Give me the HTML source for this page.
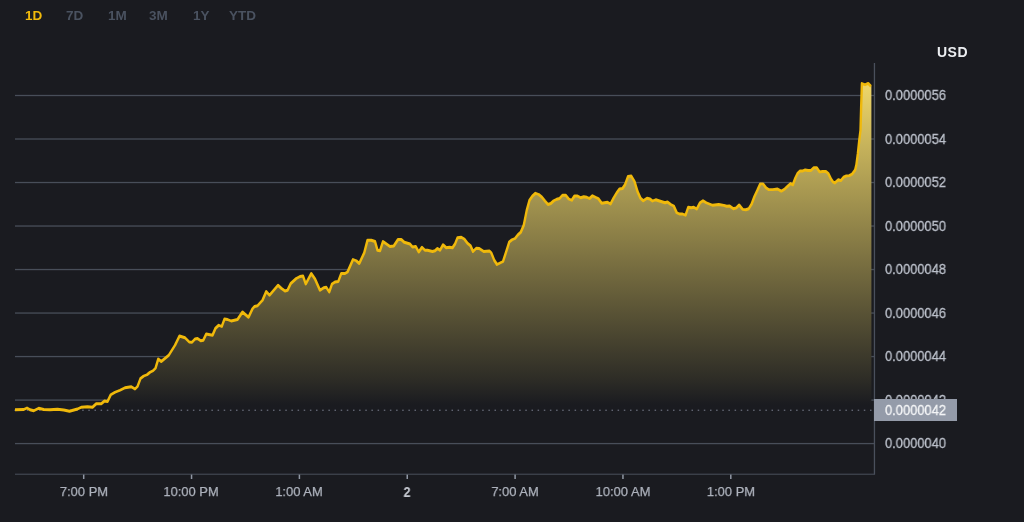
<!DOCTYPE html>
<html><head><meta charset="utf-8"><title>Chart</title>
<style>
html,body{margin:0;padding:0;background:#1a1b20;}
body{width:1024px;height:522px;position:relative;overflow:hidden;font-family:"Liberation Sans",sans-serif;}
svg{position:absolute;left:0;top:0;}
.tab{will-change:transform;position:absolute;top:8px;height:16px;line-height:16px;font-size:13.5px;font-weight:bold;color:#4a5260;white-space:nowrap;}
.tab.on{color:#f0b90b;}
.usd{will-change:transform;position:absolute;left:937px;top:44px;height:16px;line-height:16px;font-size:14px;font-weight:bold;color:#eceef1;letter-spacing:0.5px;}
.pl{position:absolute;left:884.6px;height:16px;line-height:16px;font-size:14.5px;color:#bcc1cb;white-space:nowrap;transform:scaleX(0.89);transform-origin:0 50%;-webkit-text-stroke:0.3px #bcc1cb;will-change:transform;}
.tl{position:absolute;top:483.5px;width:80px;text-align:center;height:16px;line-height:16px;font-size:13px;color:#aeb3bd;white-space:nowrap;transform:scaleX(0.995);transform-origin:50% 50%;-webkit-text-stroke:0.25px #aeb3bd;will-change:transform;}
.tl.b{font-weight:bold;color:#c4c8d0;font-size:14.5px;transform:scaleX(0.88);-webkit-text-stroke:0;}
.cur{position:absolute;left:874px;top:399px;width:83px;height:22px;background:#949ba9;}
.cur span{position:absolute;left:10.6px;top:3px;height:16px;line-height:16px;font-size:14.5px;color:#f4f5f7;transform:scaleX(0.89);transform-origin:0 50%;-webkit-text-stroke:0.3px #f4f5f7;will-change:transform;}
</style></head><body>
<svg width="1024" height="522" viewBox="0 0 1024 522">
<defs>
<linearGradient id="g" gradientUnits="userSpaceOnUse" x1="0" y1="63" x2="0" y2="410">
<stop offset="0" stop-color="rgb(252,226,110)"/>
<stop offset="0.9135" stop-color="rgb(45,44,38)"/>
<stop offset="0.985" stop-color="rgb(26,27,32)"/>
<stop offset="1" stop-color="rgb(26,27,32)"/>
</linearGradient>
</defs>
<rect x="15" y="94.85" width="859" height="1.3" fill="#484e59"/>
<rect x="15" y="138.36" width="859" height="1.3" fill="#484e59"/>
<rect x="15" y="181.87" width="859" height="1.3" fill="#484e59"/>
<rect x="15" y="225.38" width="859" height="1.3" fill="#484e59"/>
<rect x="15" y="268.89" width="859" height="1.3" fill="#484e59"/>
<rect x="15" y="312.40" width="227" height="1.3" fill="#484e59"/><rect x="871" y="312.40" width="3" height="1.3" fill="#484e59"/>
<rect x="15" y="355.91" width="859" height="1.3" fill="#484e59"/>
<rect x="15" y="399.42" width="859" height="1.3" fill="#484e59"/>
<rect x="15" y="442.93" width="859" height="1.3" fill="#484e59"/>
<path d="M15.00,409.50 L23.75,409.25 L27.00,407.75 L30.00,409.50 L33.75,410.50 L38.75,408.00 L43.75,409.25 L50.00,409.50 L57.50,409.00 L63.75,409.75 L69.50,411.00 L77.50,408.75 L81.25,407.00 L87.50,406.50 L92.50,407.00 L96.25,403.50 L101.25,403.50 L104.50,400.75 L107.50,401.25 L110.75,394.50 L115.00,392.00 L120.00,390.00 L125.00,387.50 L131.25,386.50 L135.00,388.75 L137.50,386.25 L140.50,378.25 L143.75,375.75 L147.00,374.50 L150.00,372.00 L153.00,370.50 L155.50,368.00 L158.25,358.75 L161.25,361.25 L168.75,355.00 L175.00,345.00 L179.50,335.75 L185.00,337.50 L189.25,341.75 L192.00,342.00 L195.00,338.75 L197.50,338.25 L200.75,340.50 L203.25,340.00 L206.25,333.75 L212.50,335.00 L215.50,328.00 L218.75,325.00 L221.75,326.25 L224.50,318.75 L227.50,319.25 L231.25,320.75 L237.50,319.25 L242.50,311.75 L248.50,317.00 L252.50,308.50 L254.50,306.25 L257.50,305.50 L262.50,300.00 L266.25,291.25 L269.50,295.00 L278.00,285.00 L281.25,288.00 L285.00,290.75 L287.50,290.00 L290.75,283.25 L296.25,278.25 L300.00,276.25 L303.00,275.75 L305.75,283.75 L311.25,273.25 L315.00,278.75 L320.00,290.00 L323.75,287.50 L326.25,287.00 L329.25,291.75 L332.00,283.75 L335.00,281.75 L338.25,281.25 L341.25,273.25 L345.00,273.25 L347.50,271.75 L353.00,259.25 L356.25,260.50 L359.25,263.25 L364.25,252.50 L367.50,240.00 L371.25,240.00 L375.00,241.25 L377.50,250.00 L380.00,250.50 L383.00,241.25 L390.00,246.25 L393.75,245.75 L398.00,239.25 L401.25,239.25 L404.25,242.00 L410.00,243.75 L412.50,246.75 L415.75,246.25 L418.75,251.75 L422.00,247.00 L425.00,250.00 L427.50,250.00 L432.50,251.25 L435.00,250.50 L437.50,248.25 L440.00,250.00 L443.00,244.50 L446.25,247.50 L449.50,247.00 L452.50,247.50 L455.00,243.75 L457.50,237.50 L461.25,237.00 L464.25,238.75 L467.50,243.00 L470.50,245.50 L473.00,251.25 L476.25,248.00 L479.25,248.25 L483.75,251.25 L489.50,250.75 L491.25,252.50 L494.25,260.00 L497.00,264.25 L503.00,261.25 L506.25,251.25 L509.25,241.75 L512.00,239.50 L515.00,238.25 L518.00,234.50 L520.75,232.00 L523.75,225.00 L526.75,210.00 L529.50,200.00 L532.50,195.75 L535.50,193.00 L538.75,194.25 L541.75,196.75 L545.00,200.75 L548.00,204.25 L550.75,203.25 L553.75,200.50 L556.75,199.00 L559.50,198.25 L562.50,195.00 L565.75,195.00 L568.75,198.75 L571.75,200.00 L574.50,195.75 L577.50,195.75 L580.75,197.50 L583.75,196.50 L586.75,197.00 L589.50,198.25 L592.50,195.50 L595.50,197.00 L598.25,198.25 L601.75,203.00 L604.50,202.50 L607.50,202.00 L610.50,203.75 L613.75,197.50 L616.75,192.50 L619.50,188.75 L622.50,188.25 L625.00,184.50 L628.00,176.25 L631.25,175.75 L634.50,181.25 L637.50,191.25 L640.50,198.00 L643.25,200.50 L647.00,198.00 L650.00,198.75 L652.50,200.75 L655.75,199.50 L658.75,200.50 L665.00,202.50 L667.50,201.75 L670.75,204.25 L673.75,205.75 L676.75,212.50 L679.50,213.75 L682.50,213.75 L685.50,215.00 L688.25,207.00 L691.25,207.50 L693.75,207.00 L696.75,208.75 L700.00,202.50 L703.00,200.50 L706.25,202.50 L712.50,205.00 L718.75,204.25 L723.80,205.10 L726.70,206.00 L729.60,205.70 L733.40,208.50 L736.30,207.60 L739.20,204.70 L742.60,209.10 L745.90,209.50 L748.70,208.50 L751.60,203.80 L754.50,196.10 L757.40,190.00 L760.20,183.60 L763.10,183.60 L766.00,187.50 L768.90,189.40 L772.70,189.40 L777.50,188.80 L781.30,190.90 L785.10,188.40 L788.00,185.60 L790.50,183.30 L792.80,184.60 L795.30,177.90 L797.60,173.10 L799.90,170.80 L802.40,170.80 L805.20,169.70 L808.10,170.20 L811.00,170.20 L813.90,167.40 L816.70,167.40 L819.60,171.60 L822.50,171.20 L825.90,171.20 L828.20,173.10 L831.10,178.90 L833.00,181.70 L834.90,182.70 L838.40,179.40 L840.70,180.40 L843.60,176.90 L846.40,175.60 L849.30,175.40 L852.20,173.70 L855.10,169.80 L856.40,164.50 L857.90,153.00 L859.30,139.60 L860.50,130.00 L861.20,105.00 L861.90,83.30 L865.00,84.50 L868.20,83.10 L871.00,86.10 L871.4,86 L871.4,410.3 L15.00,410.3 Z" fill="url(#g)"/>
<rect x="14.4" y="409.7" width="1.5" height="1.05" fill="#787e8c"/>
<rect x="20.6" y="409.7" width="1.5" height="1.05" fill="#787e8c"/>
<rect x="26.8" y="409.7" width="1.5" height="1.05" fill="#787e8c"/>
<rect x="32.9" y="409.7" width="1.5" height="1.05" fill="#787e8c"/>
<rect x="39.1" y="409.7" width="1.5" height="1.05" fill="#787e8c"/>
<rect x="45.2" y="409.7" width="1.5" height="1.05" fill="#787e8c"/>
<rect x="51.4" y="409.7" width="1.5" height="1.05" fill="#787e8c"/>
<rect x="57.5" y="409.7" width="1.5" height="1.05" fill="#787e8c"/>
<rect x="63.7" y="409.7" width="1.5" height="1.05" fill="#787e8c"/>
<rect x="69.8" y="409.7" width="1.5" height="1.05" fill="#787e8c"/>
<rect x="76.0" y="409.7" width="1.5" height="1.05" fill="#787e8c"/>
<rect x="82.2" y="409.7" width="1.5" height="1.05" fill="#787e8c"/>
<rect x="88.3" y="409.7" width="1.5" height="1.05" fill="#787e8c"/>
<rect x="94.5" y="409.7" width="1.5" height="1.05" fill="#787e8c"/>
<rect x="100.6" y="409.7" width="1.5" height="1.05" fill="#787e8c"/>
<rect x="106.8" y="409.7" width="1.5" height="1.05" fill="#787e8c"/>
<rect x="112.9" y="409.7" width="1.5" height="1.05" fill="#787e8c"/>
<rect x="119.1" y="409.7" width="1.5" height="1.05" fill="#787e8c"/>
<rect x="125.2" y="409.7" width="1.5" height="1.05" fill="#787e8c"/>
<rect x="131.4" y="409.7" width="1.5" height="1.05" fill="#787e8c"/>
<rect x="137.6" y="409.7" width="1.5" height="1.05" fill="#787e8c"/>
<rect x="143.7" y="409.7" width="1.5" height="1.05" fill="#787e8c"/>
<rect x="149.9" y="409.7" width="1.5" height="1.05" fill="#787e8c"/>
<rect x="156.0" y="409.7" width="1.5" height="1.05" fill="#787e8c"/>
<rect x="162.2" y="409.7" width="1.5" height="1.05" fill="#787e8c"/>
<rect x="168.3" y="409.7" width="1.5" height="1.05" fill="#787e8c"/>
<rect x="174.5" y="409.7" width="1.5" height="1.05" fill="#787e8c"/>
<rect x="180.6" y="409.7" width="1.5" height="1.05" fill="#787e8c"/>
<rect x="186.8" y="409.7" width="1.5" height="1.05" fill="#787e8c"/>
<rect x="192.9" y="409.7" width="1.5" height="1.05" fill="#787e8c"/>
<rect x="199.1" y="409.7" width="1.5" height="1.05" fill="#787e8c"/>
<rect x="205.3" y="409.7" width="1.5" height="1.05" fill="#787e8c"/>
<rect x="211.4" y="409.7" width="1.5" height="1.05" fill="#787e8c"/>
<rect x="217.6" y="409.7" width="1.5" height="1.05" fill="#787e8c"/>
<rect x="223.7" y="409.7" width="1.5" height="1.05" fill="#787e8c"/>
<rect x="229.9" y="409.7" width="1.5" height="1.05" fill="#787e8c"/>
<rect x="236.0" y="409.7" width="1.5" height="1.05" fill="#787e8c"/>
<rect x="242.2" y="409.7" width="1.5" height="1.05" fill="#787e8c"/>
<rect x="248.3" y="409.7" width="1.5" height="1.05" fill="#787e8c"/>
<rect x="254.5" y="409.7" width="1.5" height="1.05" fill="#787e8c"/>
<rect x="260.7" y="409.7" width="1.5" height="1.05" fill="#787e8c"/>
<rect x="266.8" y="409.7" width="1.5" height="1.05" fill="#787e8c"/>
<rect x="273.0" y="409.7" width="1.5" height="1.05" fill="#787e8c"/>
<rect x="279.1" y="409.7" width="1.5" height="1.05" fill="#787e8c"/>
<rect x="285.3" y="409.7" width="1.5" height="1.05" fill="#787e8c"/>
<rect x="291.4" y="409.7" width="1.5" height="1.05" fill="#787e8c"/>
<rect x="297.6" y="409.7" width="1.5" height="1.05" fill="#787e8c"/>
<rect x="303.7" y="409.7" width="1.5" height="1.05" fill="#787e8c"/>
<rect x="309.9" y="409.7" width="1.5" height="1.05" fill="#787e8c"/>
<rect x="316.0" y="409.7" width="1.5" height="1.05" fill="#787e8c"/>
<rect x="322.2" y="409.7" width="1.5" height="1.05" fill="#787e8c"/>
<rect x="328.4" y="409.7" width="1.5" height="1.05" fill="#787e8c"/>
<rect x="334.5" y="409.7" width="1.5" height="1.05" fill="#787e8c"/>
<rect x="340.7" y="409.7" width="1.5" height="1.05" fill="#787e8c"/>
<rect x="346.8" y="409.7" width="1.5" height="1.05" fill="#787e8c"/>
<rect x="353.0" y="409.7" width="1.5" height="1.05" fill="#787e8c"/>
<rect x="359.1" y="409.7" width="1.5" height="1.05" fill="#787e8c"/>
<rect x="365.3" y="409.7" width="1.5" height="1.05" fill="#787e8c"/>
<rect x="371.4" y="409.7" width="1.5" height="1.05" fill="#787e8c"/>
<rect x="377.6" y="409.7" width="1.5" height="1.05" fill="#787e8c"/>
<rect x="383.8" y="409.7" width="1.5" height="1.05" fill="#787e8c"/>
<rect x="389.9" y="409.7" width="1.5" height="1.05" fill="#787e8c"/>
<rect x="396.1" y="409.7" width="1.5" height="1.05" fill="#787e8c"/>
<rect x="402.2" y="409.7" width="1.5" height="1.05" fill="#787e8c"/>
<rect x="408.4" y="409.7" width="1.5" height="1.05" fill="#787e8c"/>
<rect x="414.5" y="409.7" width="1.5" height="1.05" fill="#787e8c"/>
<rect x="420.7" y="409.7" width="1.5" height="1.05" fill="#787e8c"/>
<rect x="426.8" y="409.7" width="1.5" height="1.05" fill="#787e8c"/>
<rect x="433.0" y="409.7" width="1.5" height="1.05" fill="#787e8c"/>
<rect x="439.1" y="409.7" width="1.5" height="1.05" fill="#787e8c"/>
<rect x="445.3" y="409.7" width="1.5" height="1.05" fill="#787e8c"/>
<rect x="451.5" y="409.7" width="1.5" height="1.05" fill="#787e8c"/>
<rect x="457.6" y="409.7" width="1.5" height="1.05" fill="#787e8c"/>
<rect x="463.8" y="409.7" width="1.5" height="1.05" fill="#787e8c"/>
<rect x="469.9" y="409.7" width="1.5" height="1.05" fill="#787e8c"/>
<rect x="476.1" y="409.7" width="1.5" height="1.05" fill="#787e8c"/>
<rect x="482.2" y="409.7" width="1.5" height="1.05" fill="#787e8c"/>
<rect x="488.4" y="409.7" width="1.5" height="1.05" fill="#787e8c"/>
<rect x="494.5" y="409.7" width="1.5" height="1.05" fill="#787e8c"/>
<rect x="500.7" y="409.7" width="1.5" height="1.05" fill="#787e8c"/>
<rect x="506.9" y="409.7" width="1.5" height="1.05" fill="#787e8c"/>
<rect x="513.0" y="409.7" width="1.5" height="1.05" fill="#787e8c"/>
<rect x="519.2" y="409.7" width="1.5" height="1.05" fill="#787e8c"/>
<rect x="525.3" y="409.7" width="1.5" height="1.05" fill="#787e8c"/>
<rect x="531.5" y="409.7" width="1.5" height="1.05" fill="#787e8c"/>
<rect x="537.6" y="409.7" width="1.5" height="1.05" fill="#787e8c"/>
<rect x="543.8" y="409.7" width="1.5" height="1.05" fill="#787e8c"/>
<rect x="549.9" y="409.7" width="1.5" height="1.05" fill="#787e8c"/>
<rect x="556.1" y="409.7" width="1.5" height="1.05" fill="#787e8c"/>
<rect x="562.2" y="409.7" width="1.5" height="1.05" fill="#787e8c"/>
<rect x="568.4" y="409.7" width="1.5" height="1.05" fill="#787e8c"/>
<rect x="574.6" y="409.7" width="1.5" height="1.05" fill="#787e8c"/>
<rect x="580.7" y="409.7" width="1.5" height="1.05" fill="#787e8c"/>
<rect x="586.9" y="409.7" width="1.5" height="1.05" fill="#787e8c"/>
<rect x="593.0" y="409.7" width="1.5" height="1.05" fill="#787e8c"/>
<rect x="599.2" y="409.7" width="1.5" height="1.05" fill="#787e8c"/>
<rect x="605.3" y="409.7" width="1.5" height="1.05" fill="#787e8c"/>
<rect x="611.5" y="409.7" width="1.5" height="1.05" fill="#787e8c"/>
<rect x="617.6" y="409.7" width="1.5" height="1.05" fill="#787e8c"/>
<rect x="623.8" y="409.7" width="1.5" height="1.05" fill="#787e8c"/>
<rect x="630.0" y="409.7" width="1.5" height="1.05" fill="#787e8c"/>
<rect x="636.1" y="409.7" width="1.5" height="1.05" fill="#787e8c"/>
<rect x="642.3" y="409.7" width="1.5" height="1.05" fill="#787e8c"/>
<rect x="648.4" y="409.7" width="1.5" height="1.05" fill="#787e8c"/>
<rect x="654.6" y="409.7" width="1.5" height="1.05" fill="#787e8c"/>
<rect x="660.7" y="409.7" width="1.5" height="1.05" fill="#787e8c"/>
<rect x="666.9" y="409.7" width="1.5" height="1.05" fill="#787e8c"/>
<rect x="673.0" y="409.7" width="1.5" height="1.05" fill="#787e8c"/>
<rect x="679.2" y="409.7" width="1.5" height="1.05" fill="#787e8c"/>
<rect x="685.3" y="409.7" width="1.5" height="1.05" fill="#787e8c"/>
<rect x="691.5" y="409.7" width="1.5" height="1.05" fill="#787e8c"/>
<rect x="697.7" y="409.7" width="1.5" height="1.05" fill="#787e8c"/>
<rect x="703.8" y="409.7" width="1.5" height="1.05" fill="#787e8c"/>
<rect x="710.0" y="409.7" width="1.5" height="1.05" fill="#787e8c"/>
<rect x="716.1" y="409.7" width="1.5" height="1.05" fill="#787e8c"/>
<rect x="722.3" y="409.7" width="1.5" height="1.05" fill="#787e8c"/>
<rect x="728.4" y="409.7" width="1.5" height="1.05" fill="#787e8c"/>
<rect x="734.6" y="409.7" width="1.5" height="1.05" fill="#787e8c"/>
<rect x="740.7" y="409.7" width="1.5" height="1.05" fill="#787e8c"/>
<rect x="746.9" y="409.7" width="1.5" height="1.05" fill="#787e8c"/>
<rect x="753.1" y="409.7" width="1.5" height="1.05" fill="#787e8c"/>
<rect x="759.2" y="409.7" width="1.5" height="1.05" fill="#787e8c"/>
<rect x="765.4" y="409.7" width="1.5" height="1.05" fill="#787e8c"/>
<rect x="771.5" y="409.7" width="1.5" height="1.05" fill="#787e8c"/>
<rect x="777.7" y="409.7" width="1.5" height="1.05" fill="#787e8c"/>
<rect x="783.8" y="409.7" width="1.5" height="1.05" fill="#787e8c"/>
<rect x="790.0" y="409.7" width="1.5" height="1.05" fill="#787e8c"/>
<rect x="796.1" y="409.7" width="1.5" height="1.05" fill="#787e8c"/>
<rect x="802.3" y="409.7" width="1.5" height="1.05" fill="#787e8c"/>
<rect x="808.4" y="409.7" width="1.5" height="1.05" fill="#787e8c"/>
<rect x="814.6" y="409.7" width="1.5" height="1.05" fill="#787e8c"/>
<rect x="820.8" y="409.7" width="1.5" height="1.05" fill="#787e8c"/>
<rect x="826.9" y="409.7" width="1.5" height="1.05" fill="#787e8c"/>
<rect x="833.1" y="409.7" width="1.5" height="1.05" fill="#787e8c"/>
<rect x="839.2" y="409.7" width="1.5" height="1.05" fill="#787e8c"/>
<rect x="845.4" y="409.7" width="1.5" height="1.05" fill="#787e8c"/>
<rect x="851.5" y="409.7" width="1.5" height="1.05" fill="#787e8c"/>
<rect x="857.7" y="409.7" width="1.5" height="1.05" fill="#787e8c"/>
<rect x="863.8" y="409.7" width="1.5" height="1.05" fill="#787e8c"/>
<rect x="870.0" y="409.7" width="1.5" height="1.05" fill="#787e8c"/>
<path d="M15.00,341.458 L23.75,341.250 L27.00,340.000 L30.00,341.458 L33.75,342.292 L38.75,340.208 L43.75,341.250 L50.00,341.458 L57.50,341.042 L63.75,341.667 L69.50,342.708 L77.50,340.833 L81.25,339.375 L87.50,338.958 L92.50,339.375 L96.25,336.458 L101.25,336.458 L104.50,334.167 L107.50,334.583 L110.75,328.958 L115.00,326.875 L120.00,325.208 L125.00,323.125 L131.25,322.292 L135.00,324.167 L137.50,322.083 L140.50,315.417 L143.75,313.333 L147.00,312.292 L150.00,310.208 L153.00,308.958 L155.50,306.875 L158.25,299.167 L161.25,301.250 L168.75,296.042 L175.00,287.708 L179.50,280.000 L185.00,281.458 L189.25,285.000 L192.00,285.208 L195.00,282.500 L197.50,282.083 L200.75,283.958 L203.25,283.542 L206.25,278.333 L212.50,279.375 L215.50,273.542 L218.75,271.042 L221.75,272.083 L224.50,265.833 L227.50,266.250 L231.25,267.500 L237.50,266.250 L242.50,260.000 L248.50,264.375 L252.50,257.292 L254.50,255.417 L257.50,254.792 L262.50,250.208 L266.25,242.917 L269.50,246.042 L278.00,237.708 L281.25,240.208 L285.00,242.500 L287.50,241.875 L290.75,236.250 L296.25,232.083 L300.00,230.417 L303.00,230.000 L305.75,236.667 L311.25,227.917 L315.00,232.500 L320.00,241.875 L323.75,239.792 L326.25,239.375 L329.25,243.333 L332.00,236.667 L335.00,235.000 L338.25,234.583 L341.25,227.917 L345.00,227.917 L347.50,226.667 L353.00,216.250 L356.25,217.292 L359.25,219.583 L364.25,210.625 L367.50,200.208 L371.25,200.208 L375.00,201.250 L377.50,208.542 L380.00,208.958 L383.00,201.250 L390.00,205.417 L393.75,205.000 L398.00,199.583 L401.25,199.583 L404.25,201.875 L410.00,203.333 L412.50,205.833 L415.75,205.417 L418.75,210.000 L422.00,206.042 L425.00,208.542 L427.50,208.542 L432.50,209.583 L435.00,208.958 L437.50,207.083 L440.00,208.542 L443.00,203.958 L446.25,206.458 L449.50,206.042 L452.50,206.458 L455.00,203.333 L457.50,198.125 L461.25,197.708 L464.25,199.167 L467.50,202.708 L470.50,204.792 L473.00,209.583 L476.25,206.875 L479.25,207.083 L483.75,209.583 L489.50,209.167 L491.25,210.625 L494.25,216.875 L497.00,220.417 L503.00,217.917 L506.25,209.583 L509.25,201.667 L512.00,199.792 L515.00,198.750 L518.00,195.625 L520.75,193.542 L523.75,187.708 L526.75,175.208 L529.50,166.875 L532.50,163.333 L535.50,161.042 L538.75,162.083 L541.75,164.167 L545.00,167.500 L548.00,170.417 L550.75,169.583 L553.75,167.292 L556.75,166.042 L559.50,165.417 L562.50,162.708 L565.75,162.708 L568.75,165.833 L571.75,166.875 L574.50,163.333 L577.50,163.333 L580.75,164.792 L583.75,163.958 L586.75,164.375 L589.50,165.417 L592.50,163.125 L595.50,164.375 L598.25,165.417 L601.75,169.375 L604.50,168.958 L607.50,168.542 L610.50,170.000 L613.75,164.792 L616.75,160.625 L619.50,157.500 L622.50,157.083 L625.00,153.958 L628.00,147.083 L631.25,146.667 L634.50,151.250 L637.50,159.583 L640.50,165.208 L643.25,167.292 L647.00,165.208 L650.00,165.833 L652.50,167.500 L655.75,166.458 L658.75,167.292 L665.00,168.958 L667.50,168.333 L670.75,170.417 L673.75,171.667 L676.75,177.292 L679.50,178.333 L682.50,178.333 L685.50,179.375 L688.25,172.708 L691.25,173.125 L693.75,172.708 L696.75,174.167 L700.00,168.958 L703.00,167.292 L706.25,168.958 L712.50,171.042 L718.75,170.417 L723.80,171.125 L726.70,171.875 L729.60,171.625 L733.40,173.958 L736.30,173.208 L739.20,170.792 L742.60,174.458 L745.90,174.792 L748.70,173.958 L751.60,170.042 L754.50,163.625 L757.40,158.542 L760.20,153.208 L763.10,153.208 L766.00,156.458 L768.90,158.042 L772.70,158.042 L777.50,157.542 L781.30,159.292 L785.10,157.208 L788.00,154.875 L790.50,152.958 L792.80,154.042 L795.30,148.458 L797.60,144.458 L799.90,142.542 L802.40,142.542 L805.20,141.625 L808.10,142.042 L811.00,142.042 L813.90,139.708 L816.70,139.708 L819.60,143.208 L822.50,142.875 L825.90,142.875 L828.20,144.458 L831.10,149.292 L833.00,151.625 L834.90,152.458 L838.40,149.708 L840.70,150.542 L843.60,147.625 L846.40,146.542 L849.30,146.375 L852.20,144.958 L855.10,141.708 L856.40,137.292 L857.90,127.708 L859.30,116.542 L860.50,108.542 L861.20,87.708 L861.90,69.625 L865.00,70.625 L868.20,69.458 L871.00,71.958" fill="none" stroke="#f0b90b" stroke-width="2.4" stroke-linejoin="round" stroke-linecap="butt" transform="scale(1,1.2)"/>
<rect x="873.8" y="63" width="1.3" height="411.5" fill="#4a505c"/>
<rect x="15" y="473.7" width="859.8" height="1" fill="#4a505c"/>
<rect x="82.95" y="474.6" width="1.5" height="4.4" fill="#9097a4"/>
<rect x="190.80" y="474.6" width="1.5" height="4.4" fill="#9097a4"/>
<rect x="298.65" y="474.6" width="1.5" height="4.4" fill="#9097a4"/>
<rect x="406.50" y="474.6" width="1.5" height="4.4" fill="#9097a4"/>
<rect x="514.35" y="474.6" width="1.5" height="4.4" fill="#9097a4"/>
<rect x="622.20" y="474.6" width="1.5" height="4.4" fill="#9097a4"/>
<rect x="730.05" y="474.6" width="1.5" height="4.4" fill="#9097a4"/>
</svg>
<div class="tab on" style="left:25.2px">1D</div>
<div class="tab" style="left:66.0px">7D</div>
<div class="tab" style="left:107.8px">1M</div>
<div class="tab" style="left:149.1px">3M</div>
<div class="tab" style="left:192.8px">1Y</div>
<div class="tab" style="left:229.1px">YTD</div>
<div class="usd">USD</div>
<div class="pl" style="top:87.2px">0.0000056</div>
<div class="pl" style="top:130.7px">0.0000054</div>
<div class="pl" style="top:174.2px">0.0000052</div>
<div class="pl" style="top:217.7px">0.0000050</div>
<div class="pl" style="top:261.2px">0.0000048</div>
<div class="pl" style="top:304.7px">0.0000046</div>
<div class="pl" style="top:348.3px">0.0000044</div>
<div class="pl" style="top:391.8px">0.0000042</div>
<div class="pl" style="top:435.3px">0.0000040</div>
<div class="cur"><span>0.0000042</span></div>
<div class="tl" style="left:43.5px">7:00 PM</div>
<div class="tl" style="left:151.3px">10:00 PM</div>
<div class="tl" style="left:259.1px">1:00 AM</div>
<div class="tl b" style="left:367.0px">2</div>
<div class="tl" style="left:474.9px">7:00 AM</div>
<div class="tl" style="left:582.7px">10:00 AM</div>
<div class="tl" style="left:690.5px">1:00 PM</div>
</body></html>
